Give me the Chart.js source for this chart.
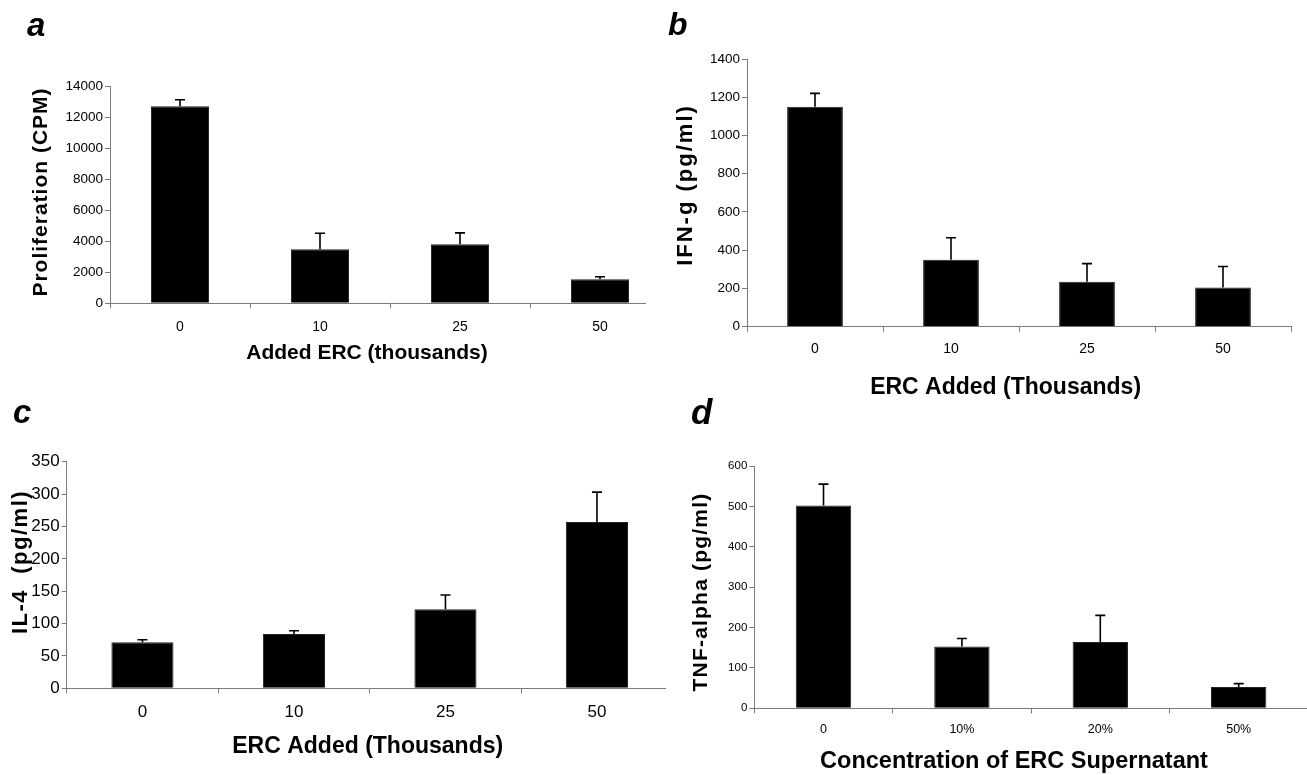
<!DOCTYPE html>
<html><head><meta charset="utf-8">
<script src="https://cdn.jsdelivr.net/npm/chart.js@4.4.1/dist/chart.umd.min.js"></script>
<style>
html,body{margin:0;padding:0;background:#fff;width:1307px;height:775px;overflow:hidden;position:relative;}
.clip{position:absolute;overflow:hidden;}
.clip canvas{position:absolute;left:0;top:0;}
</style></head><body>
<div class="clip" style="left:0;top:0;width:646px;height:380px;"><canvas id="ca" width="680" height="380"></canvas></div>
<div class="clip" style="left:650px;top:0;width:657px;height:400px;"><canvas id="cb" width="657" height="400"></canvas></div>
<div class="clip" style="left:0;top:380px;width:666px;height:395px;"><canvas id="cc" width="700" height="395"></canvas></div>
<div class="clip" style="left:650px;top:380px;width:657px;height:395px;"><canvas id="cd" width="680" height="395"></canvas></div>
<script>
// ---- data ----
const categoriesA = ['0', '10', '25', '50'];
const valuesA = [12700, 3480, 3800, 1545];
const errorsA = [410, 1030, 740, 165];
const yTicksA = [0, 2000, 4000, 6000, 8000, 10000, 12000, 14000];

const categoriesB = ['0', '10', '25', '50'];
const valuesB = [1150, 350, 235, 205];
const errorsB = [70, 115, 95, 110];
const yTicksB = [0, 200, 400, 600, 800, 1000, 1200, 1400];

const categoriesC = ['0', '10', '25', '50'];
const valuesC = [71, 84, 122, 257];
const errorsC = [4, 5, 22, 46];
const yTicksC = [0, 50, 100, 150, 200, 250, 300, 350];

const categoriesD = ['0', '10%', '20%', '50%'];
const valuesD = [502, 153, 164, 53];
const errorsD = [53, 20, 66, 8];
const yTicksD = [0, 100, 200, 300, 400, 500, 600];

// ---- plugins ----
const errBars = {
  id: 'errbars',
  afterDatasetsDraw(chart, args, o) {
    const meta = chart.getDatasetMeta(0);
    const ys = chart.scales.y;
    const ctx = chart.ctx;
    const data = chart.data.datasets[0].data;
    ctx.save();
    ctx.strokeStyle = '#000';
    ctx.lineWidth = 1.6;
    meta.data.forEach((bar, i) => {
      const yv = ys.getPixelForValue(data[i]);
      const yt = ys.getPixelForValue(data[i] + o.errors[i]);
      ctx.beginPath();
      ctx.moveTo(bar.x, yv); ctx.lineTo(bar.x, yt);
      ctx.moveTo(bar.x - o.cap, yt); ctx.lineTo(bar.x + o.cap, yt);
      ctx.stroke();
    });
    ctx.restore();
  }
};
const panelText = {
  id: 'paneltext',
  afterDraw(chart, args, o) {
    const ctx = chart.ctx;
    ctx.save();
    ctx.fillStyle = '#000';
    ctx.font = o.letterFont; ctx.textAlign = 'left'; ctx.textBaseline = 'alphabetic';
    ctx.fillText(o.letter, o.letterX, o.letterY);
    ctx.font = o.xFont; ctx.textAlign = 'center'; ctx.textBaseline = 'middle';
    ctx.letterSpacing = o.xSpacing;
    ctx.fillText(o.xTitle, o.xTitleX, o.xTitleY);
    ctx.translate(o.yTitleX, o.yTitleY);
    ctx.rotate(-Math.PI / 2);
    ctx.font = o.yFont; ctx.letterSpacing = o.ySpacing;
    ctx.fillText(o.yTitle, 0, 0);
    ctx.restore();
  }
};

function makeChart(id, cats, vals, errs, yt, p) {
  const axisColor = '#7a7a7a';
  new Chart(document.getElementById(id), {
    type: 'bar',
    data: { labels: cats, datasets: [{ data: vals, backgroundColor: '#000', borderColor: '#222', borderWidth: 1,
      barPercentage: p.barPct, categoryPercentage: 1 }] },
    options: {
      responsive: false, animation: false, devicePixelRatio: 1,
      layout: { padding: p.pad },
      plugins: { legend: { display: false }, tooltip: { enabled: false },
        errbars: { errors: errs, cap: p.cap }, paneltext: p.text },
      scales: {
        x: {
          grid: { display: true, drawOnChartArea: false, offset: true, tickLength: 5, color: axisColor, lineWidth: 1 },
          border: { color: axisColor, width: 1 },
          ticks: { color: '#000', font: { family: 'Liberation Sans, Arial, sans-serif', size: p.xTickSize }, padding: p.xTickPad, maxRotation: 0 },
          afterFit(s) { s.height = 30; }
        },
        y: {
          min: yt[0], max: yt[yt.length - 1],
          afterBuildTicks(s) { s.ticks = yt.map(v => ({ value: v })); },
          grid: { display: true, drawOnChartArea: false, tickLength: 5, color: axisColor, lineWidth: 1 },
          border: { color: axisColor, width: 1 },
          ticks: { color: '#000', font: { family: 'Liberation Sans, Arial, sans-serif', size: p.yTickSize }, padding: 2,
            callback: v => String(v) },
          afterFit(s) { s.width = p.yW; }
        }
      }
    },
    plugins: [errBars, panelText]
  });
}

makeChart('ca', categoriesA, valuesA, errorsA, yTicksA, {
  barPct: 0.415, cap: 5, yW: 50, xTickSize: 14, yTickSize: 13.5, xTickPad: 10,
  pad: { left: 60, top: 86, right: 10, bottom: 46.7 },
  text: { letter: 'a', letterFont: 'italic bold 33px Liberation Sans, Arial, sans-serif', letterX: 27, letterY: 36,
    xTitle: 'Added ERC (thousands)', xFont: 'bold 21px Liberation Sans, Arial, sans-serif', xSpacing: '0px', xTitleX: 367, xTitleY: 353,
    yTitle: 'Proliferation (CPM)', yFont: 'bold 21px Liberation Sans, Arial, sans-serif', ySpacing: '1px', yTitleX: 41, yTitleY: 192 }
});
makeChart('cb', categoriesB, valuesB, errorsB, yTicksB, {
  barPct: 0.41, cap: 5, yW: 50, xTickSize: 14, yTickSize: 13.5, xTickPad: 9,
  pad: { left: 47, top: 59, right: 16, bottom: 43.3 },
  text: { letter: 'b', letterFont: 'italic bold 32px Liberation Sans, Arial, sans-serif', letterX: 18, letterY: 35,
    xTitle: 'ERC Added (Thousands)', xFont: 'bold 23px Liberation Sans, Arial, sans-serif', xSpacing: '0px', xTitleX: 355.6, xTitleY: 387.7,
    yTitle: 'IFN-g (pg/ml)', yFont: 'bold 22px Liberation Sans, Arial, sans-serif', ySpacing: '2px', yTitleX: 36, yTitleY: 185 }
});
makeChart('cc', categoriesC, valuesC, errorsC, yTicksC, {
  barPct: 0.41, cap: 5, yW: 40, xTickSize: 17, yTickSize: 17, xTickPad: 9,
  pad: { left: 26.7, top: 81.7, right: 27.3, bottom: 56.7 },
  text: { letter: 'c', letterFont: 'italic bold 33px Liberation Sans, Arial, sans-serif', letterX: 13, letterY: 43,
    xTitle: 'ERC Added (Thousands)', xFont: 'bold 23px Liberation Sans, Arial, sans-serif', xSpacing: '0px', xTitleX: 367.7, xTitleY: 366.7,
    yTitle: 'IL-4  (pg/ml)', yFont: 'bold 22px Liberation Sans, Arial, sans-serif', ySpacing: '1.5px', yTitleX: 21, yTitleY: 182 }
});
makeChart('cd', categoriesD, valuesD, errorsD, yTicksD, {
  barPct: 0.40, cap: 5, yW: 50, xTickSize: 12.5, yTickSize: 11.5, xTickPad: 9,
  pad: { left: 54.3, top: 86, right: 22.1, bottom: 36.7 },
  text: { letter: 'd', letterFont: 'italic bold 35px Liberation Sans, Arial, sans-serif', letterX: 41, letterY: 44,
    xTitle: 'Concentration of ERC Supernatant', xFont: 'bold 23.5px Liberation Sans, Arial, sans-serif', xSpacing: '0px', xTitleX: 364, xTitleY: 382,
    yTitle: 'TNF-alpha (pg/ml)', yFont: 'bold 21px Liberation Sans, Arial, sans-serif', ySpacing: '1.2px', yTitleX: 51, yTitleY: 212 }
});
</script>
</body></html>
